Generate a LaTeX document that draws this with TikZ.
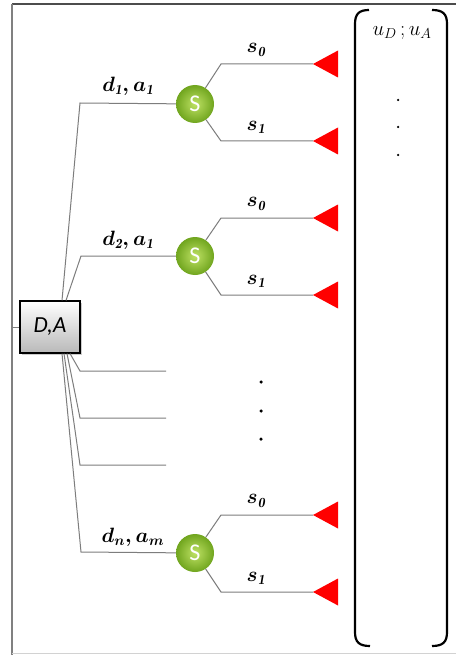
\documentclass[tikz,border=0pt]{standalone}
\usepackage{fontspec}
\newfontfamily\calibri{Carlito}
\usetikzlibrary{calc,shadows}
\definecolor{lineg}{RGB}{125,125,125}
\definecolor{sgreen}{RGB}{112,165,30}
\definecolor{sgreenl}{RGB}{190,225,100}
\tikzset{
  conn/.style={draw=lineg, line width=1pt},
  decbox/.style={draw=black, line width=1.1pt, minimum width=60pt, minimum height=52pt,
    top color=white, bottom color=gray!55, drop shadow={shadow xshift=1.5pt, shadow yshift=-1.5pt, opacity=0.4},
    font=\calibri\itshape\fontsize{23}{25}\selectfont, inner sep=0pt},
  chance/.style={circle, minimum size=38pt, inner sep=0pt, shading=radial,
    inner color=sgreenl, outer color=sgreen, text=white, font=\calibri\fontsize{24}{26}\selectfont},
  lbl/.style={font=\boldmath\fontsize{20}{24}\selectfont, inner sep=0pt},
  brk/.style={draw=black, line width=2.2pt},
  vdot/.style={circle, fill=black, inner sep=0pt, minimum size=3.5pt},
  term/.style={fill=red}
}
\newcommand{\redtri}[1]{\fill[term] (#1) -- ++(25,-13.5) -- ++(0,27) -- cycle;}
\begin{document}
\begin{tikzpicture}[x=1pt,y=-1pt]
\useasboundingbox (0,0) rectangle (456,655);
\fill[white] (0,0) rectangle (456,655);
% frame
\draw[gray!60!black, line width=1.2pt] (12,4) -- (456,4);
\draw[gray, line width=2pt] (12,4) -- (12,655);
\draw[gray!35, line width=1pt] (12,653) -- (456,653);

% decision node
\node[decbox] (DA) at (50,327) {D,A};
\coordinate (fl) at (12,327);
\draw[conn] (fl) -- (DA.west);

% knees
\coordinate (k1) at (80,103);
\coordinate (k2) at (81,256);
\coordinate (m1) at (80,371);
\coordinate (m2) at (80,418);
\coordinate (m3) at (80,465);
\coordinate (kn) at (81,552);
\coordinate (e1) at (166,371);
\coordinate (e2) at (166,418);
\coordinate (e3) at (166,465);

% chance nodes
\node[chance] (S1) at (195,104) {S};
\node[chance] (S2) at (195,256) {S};
\node[chance] (Sn) at (195,553) {S};

% fan
\draw[conn] ($(DA.north)+(12,0)$) -- (k1) -- (S1);
\draw[conn] ($(DA.north)+(16,0)$) -- (k2) -- (S2);
\draw[conn] ($(DA.south)+(20,0)$) -- (m1) -- (e1);
\draw[conn] ($(DA.south)+(17,0)$) -- (m2) -- (e2);
\draw[conn] ($(DA.south)+(14,0)$) -- (m3) -- (e3);
\draw[conn] ($(DA.south)+(12,0)$) -- (kn) -- (Sn);

% labels
\node[lbl] (L1) at (128,86) {$d_{\mathit{1}},a_{\mathit{1}}$};
\node[lbl] (L2) at (128,240) {$d_{\mathit{2}},a_{\mathit{1}}$};
\node[lbl] (Ln) at (133,537) {$d_{n},a_{m}$};

% branches and terminals
\foreach \S/\y in {1/64, 2/218, n/515}{
  \coordinate (b\S0) at (221,\y);
  \coordinate (t\S0) at (313,\y);
  \redtri{t\S0}
  \draw[conn] (S\S) -- (b\S0) -- (t\S0);
  \node[lbl] (s\S0) at (256,\y-14) {$s_{\mathit{0}}$};
}
\foreach \S/\y in {1/141, 2/295, n/592}{
  \coordinate (b\S1) at (221,\y);
  \coordinate (t\S1) at (313,\y);
  \redtri{t\S1}
  \draw[conn] (S\S) -- (b\S1) -- (t\S1);
  \node[lbl] (s\S1) at (256,\y-14) {$s_{\mathit{1}}$};
}

% middle dots
\node[vdot] (d1) at (261,382) {};
\node[vdot] (d2) at (261,411) {};
\node[vdot] (d3) at (261,439) {};

% bracket
\draw[brk] (369,10) .. controls (359,10) and (355,14) .. (355,24) -- (355,632) .. controls (355,642) and (359,646) .. (370,646);
\draw[brk] (432,10) .. controls (443,10) and (447,14) .. (447,24) -- (447,632) .. controls (447,642) and (443,646) .. (432,646);
\node[font=\fontsize{21}{24}\selectfont, inner sep=0pt] (U) at (402,33) {$u_D\,;u_A$};
\node[vdot, minimum size=2.5pt] (p1) at (398,100) {};
\node[vdot, minimum size=2.5pt] (p2) at (398,127) {};
\node[vdot, minimum size=2.5pt] (p3) at (398,155) {};
\end{tikzpicture}
\end{document}
